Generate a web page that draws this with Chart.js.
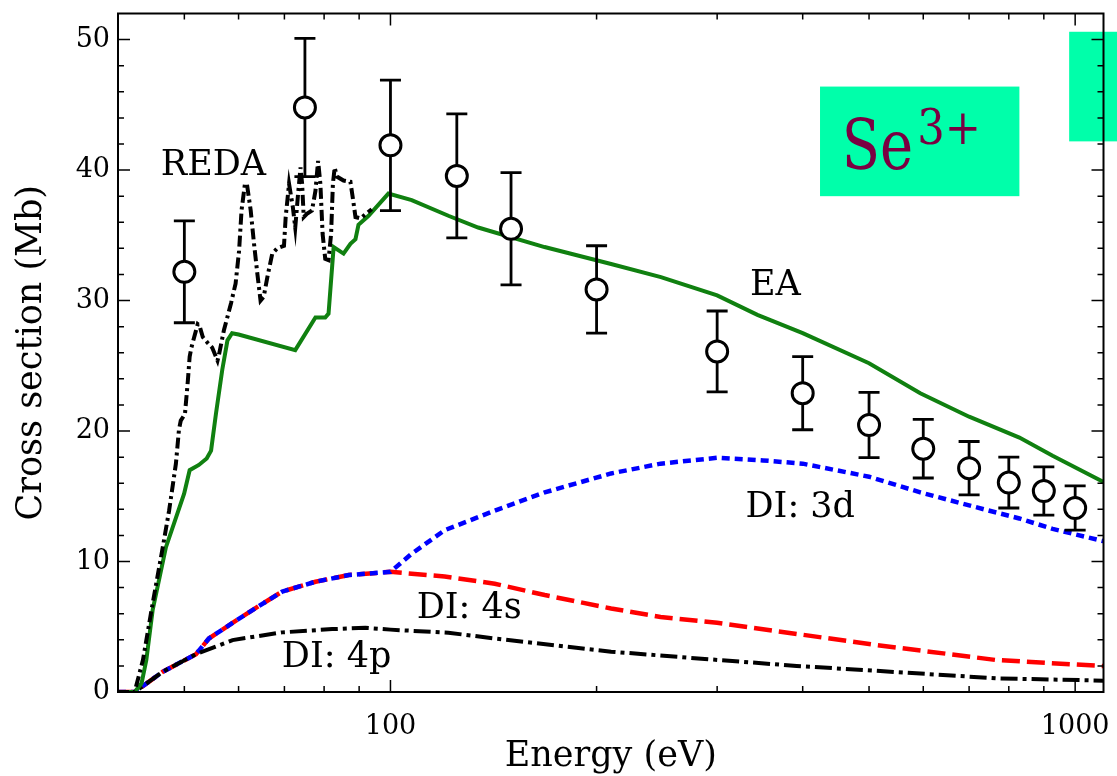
<!DOCTYPE html>
<html>
<head>
<meta charset="utf-8">
<title>Se3+ ionization cross section</title>
<script src="https://cdn.jsdelivr.net/npm/chart.js@4.4.0/dist/chart.umd.min.js"></script>
<style>
  html, body { margin: 0; padding: 0; background: #ffffff; }
  #wrap { width: 1117px; height: 776px; }
</style>
</head>
<body>
<div id="wrap"><canvas id="chart" width="1117" height="776"></canvas></div>
<script>
// Axis ticks
const xTickValues = [100, 1000];
const xMinorTicks = [50, 60, 70, 80, 90, 200, 300, 400, 500, 600, 700, 800, 900];
const yTickValues = [0, 10, 20, 30, 40, 50];
const yMinorTicks = [2, 4, 6, 8, 12, 14, 16, 18, 22, 24, 26, 28, 32, 34, 36, 38, 42, 44, 46, 48];

// Measured cross sections with uncertainties (eV, Mb)
const expEnergy = [50, 75, 100, 125, 150, 200, 300, 400, 500, 600, 700, 800, 900, 1000];
const expCross  = [32.2, 44.8, 41.9, 39.55, 35.5, 30.85, 26.1, 22.9, 20.46, 18.65, 17.15, 16.05, 15.4, 14.1];
const expError  = [3.9, 5.3, 5.0, 4.75, 4.3, 3.35, 3.1, 2.8, 2.5, 2.25, 2.05, 1.95, 1.85, 1.7];

// EA total
const eaEnergy = [40, 42.3, 43.3, 44.0, 44.95, 47.0, 49.96, 50.9, 52.5, 53.9, 54.7, 55.6, 56.8, 57.8, 58.7, 60.0,
  72.6, 77.7, 80.3, 81.2, 82.6, 85.4, 87.4, 88.9, 89.8, 92.9, 99.3, 107.4, 121.5, 134.3, 167.9, 210, 248.3,
  300, 343.5, 400, 500, 594, 700, 829, 927, 1100];
const eaCross = [0, 0, 0.67, 2.45, 6.3, 11.1, 15.2, 17.0, 17.4, 17.9, 18.5, 21.3, 24.7, 26.95, 27.5, 27.4,
  26.2, 28.7, 28.7, 29.0, 34.1, 33.6, 34.35, 34.7, 35.8, 36.5, 38.2, 37.7, 36.5, 35.6, 34.1, 32.8, 31.8,
  30.4, 28.9, 27.5, 25.2, 22.9, 21.1, 19.5, 18.1, 16.1];

// REDA
const redaEnergy = [40, 42.3, 43.5, 44.95, 46.5, 47.5, 48.6, 49.1, 49.4, 50.1, 50.6, 50.9, 51.2, 52.3, 52.6,
  53.2, 54.0, 54.9, 55.9, 56.2, 57.1, 58.5, 59.4, 60.1, 60.6, 61.3, 61.7, 62.5, 63.2, 63.9, 64.6, 65.3, 66.1,
  67.2, 68.3, 69.9, 70.3, 71.1, 72.0, 72.6, 73.3, 73.9, 74.3, 74.7, 75.5, 76.8, 77.7, 78.4, 79.0, 79.6, 80.3,
  81.2, 81.9, 82.4, 82.9, 83.5, 85.4, 87.4, 88.2, 88.9, 90.4, 93.9];
const redaCross = [0, 0, 2.45, 6.8, 11.1, 13.9, 17.5, 20.1, 20.8, 21.3, 23.9, 25.7, 26.4, 28.2, 28.1,
  27.2, 26.8, 26.4, 25.4, 25.9, 27.7, 29.8, 31.3, 33.8, 36.9, 38.95, 38.95, 36.9, 34.35, 32.1, 30.0, 30.3, 31.8,
  33.6, 34.0, 34.2, 36.4, 38.95, 37.2, 35.6, 38.2, 40.2, 38.95, 36.4, 36.65, 36.9, 38.4, 40.7, 38.95, 35.1, 33.2,
  33.1, 35.1, 38.95, 40.2, 39.5, 39.2, 39.1, 37.7, 36.4, 36.3, 37.0];

// Direct ionization, cumulative: 4p, 4p+4s, 4p+4s+3d
const p4Energy = [40, 42.3, 46.5, 52.0, 58.8, 69.5, 82.2, 91.9, 100, 121.5, 142, 210, 293, 392, 513, 767, 1100];
const p4Cross  = [0, 0, 1.55, 2.9, 3.98, 4.57, 4.82, 4.92, 4.78, 4.54, 4.1, 3.09, 2.5, 2.0, 1.62, 1.05, 0.87];

const s4Energy = [40, 42.3, 46.5, 52.0, 54.3, 58.8, 64.3, 69.5, 77.7, 86.9, 100, 120, 142, 168, 210, 248, 300, 392, 513, 767, 1100];
const s4Cross  = [0, 0, 1.55, 2.9, 4.1, 5.3, 6.6, 7.7, 8.45, 8.96, 9.21, 8.85, 8.3, 7.43, 6.4, 5.75, 5.3, 4.45, 3.6, 2.45, 1.99];

const d3Energy = [40, 42.3, 46.5, 52.0, 54.3, 58.8, 64.3, 69.5, 77.7, 86.9, 100, 107.4, 120, 142, 168, 210, 248, 300,
  350, 400, 500, 594, 700, 829, 927, 1100];
const d3Cross  = [0, 0, 1.55, 2.9, 4.1, 5.3, 6.6, 7.7, 8.45, 8.96, 9.21, 10.6, 12.4, 13.9, 15.3, 16.75, 17.5, 17.95,
  17.75, 17.5, 16.5, 15.3, 14.3, 13.3, 12.5, 11.56];

// Curve labels: [text, energy at left edge, cross section at baseline]
const curveLabels = [
  ['REDA', 46.2, 39.6],
  ['EA', 335, 30.4],
  ['DI: 3d', 330, 13.4],
  ['DI: 4s', 109.2, 5.64],
  ['DI: 4p', 69.4, 1.94]
];

const SERIF = "'DejaVu Serif', 'Liberation Serif', serif";

function pts(xs, ys) { return xs.map((x, i) => ({ x: x, y: ys[i] })); }

// keep the plot frame fixed: no extra room for overhanging tick labels
function noPad(s) { s.paddingTop = 0; s.paddingBottom = 0; s.paddingLeft = 0; s.paddingRight = 0; }

const ionPlugin = {
  id: 'ionDecor',
  beforeDatasetsDraw(chart) {
    const { ctx, scales: { x, y } } = chart;
    ctx.save();
    ctx.fillStyle = '#00ffaa';
    // ion badge
    const bx0 = x.getPixelForValue(424), bx1 = x.getPixelForValue(829);
    const by0 = y.getPixelForValue(46.4), by1 = y.getPixelForValue(38.0);
    ctx.fillRect(bx0, by0, bx1 - bx0, by1 - by0);
    // side tab running off the right edge
    const tx0 = x.getPixelForValue(980);
    const ty0 = y.getPixelForValue(50.6), ty1 = y.getPixelForValue(42.2);
    ctx.fillRect(tx0, ty0, chart.width - tx0, ty1 - ty0);
    ctx.restore();
  },
  beforeDatasetDraw(chart, args) {
    if (args.index !== 5) return;
    const { ctx, scales: { x, y } } = chart;
    ctx.save();
    ctx.strokeStyle = '#000';
    ctx.lineWidth = 2.8;
    ctx.setLineDash([]);
    expEnergy.forEach((e, i) => {
      const px = x.getPixelForValue(e);
      const yt = y.getPixelForValue(expCross[i] + expError[i]);
      const yb = y.getPixelForValue(expCross[i] - expError[i]);
      ctx.beginPath();
      ctx.moveTo(px, yt); ctx.lineTo(px, yb);
      ctx.moveTo(px - 10.5, yt); ctx.lineTo(px + 10.5, yt);
      ctx.moveTo(px - 10.5, yb); ctx.lineTo(px + 10.5, yb);
      ctx.stroke();
    });
    ctx.restore();
  },
  afterDatasetsDraw(chart) {
    const { ctx, chartArea: a, scales: { x, y } } = chart;
    ctx.save();
    // frame
    ctx.strokeStyle = '#000';
    ctx.lineWidth = 2;
    ctx.strokeRect(a.left, a.top, a.right - a.left, a.bottom - a.top);
    // inward ticks on all four sides
    ctx.lineWidth = 1.5;
    ctx.beginPath();
    const xt = (v, len) => {
      const p = x.getPixelForValue(v);
      ctx.moveTo(p, a.bottom); ctx.lineTo(p, a.bottom - len);
      ctx.moveTo(p, a.top); ctx.lineTo(p, a.top + len);
    };
    const yt = (v, len) => {
      const p = y.getPixelForValue(v);
      ctx.moveTo(a.left, p); ctx.lineTo(a.left + len, p);
      ctx.moveTo(a.right, p); ctx.lineTo(a.right - len, p);
    };
    xTickValues.forEach(v => xt(v, 12));
    xMinorTicks.forEach(v => xt(v, 6));
    yTickValues.forEach(v => yt(v, 12));
    yMinorTicks.forEach(v => yt(v, 6));
    ctx.stroke();

    // curve labels
    ctx.fillStyle = '#000';
    ctx.font = '35px ' + SERIF;
    ctx.textAlign = 'left';
    ctx.textBaseline = 'alphabetic';
    curveLabels.forEach(([t, e, v]) => {
      ctx.fillText(t, x.getPixelForValue(e), y.getPixelForValue(v));
    });

    // ion symbol
    ctx.fillStyle = '#7a0042';
    let sx = x.getPixelForValue(456);
    ctx.save();
    ctx.translate(sx, y.getPixelForValue(40.1));
    ctx.scale(0.8, 1);
    ctx.font = '70px ' + SERIF;
    ctx.fillText('Se', 0, 0);
    const w = ctx.measureText('Se').width * 0.8;
    ctx.restore();
    ctx.save();
    ctx.translate(sx + w + 4, y.getPixelForValue(42.0));
    ctx.scale(0.9, 1);
    ctx.font = '48px ' + SERIF;
    ctx.fillText('3+', 0, 0);
    ctx.restore();
    ctx.restore();
  }
};

const lineBase = { showLine: true, pointRadius: 0, pointHoverRadius: 0, fill: false, tension: 0 };

new Chart(document.getElementById('chart'), {
  type: 'scatter',
  data: {
    datasets: [
      Object.assign({}, lineBase, { label: 'EA', data: pts(eaEnergy, eaCross), borderColor: '#108010', borderWidth: 4, order: 2 }),
      Object.assign({}, lineBase, { label: 'REDA', data: pts(redaEnergy, redaCross), borderColor: '#000000', borderWidth: 4, borderDash: [11, 4, 3, 4], order: 1 }),
      Object.assign({}, lineBase, { label: 'DI: 3d', data: pts(d3Energy, d3Cross), borderColor: '#0000ff', borderWidth: 4.5, borderDash: [8, 5], order: 4 }),
      Object.assign({}, lineBase, { label: 'DI: 4s', data: pts(s4Energy, s4Cross), borderColor: '#ff0000', borderWidth: 4.5, borderDash: [18, 7], order: 5 }),
      Object.assign({}, lineBase, { label: 'DI: 4p', data: pts(p4Energy, p4Cross), borderColor: '#000000', borderWidth: 4, borderDash: [17, 5, 4, 5], order: 3 }),
      { label: 'Experiment', data: pts(expEnergy, expCross), showLine: false, pointStyle: 'circle', pointRadius: 10.5,
        pointBackgroundColor: '#ffffff', pointBorderColor: '#000000', pointBorderWidth: 3, order: 0 }
    ]
  },
  options: {
    responsive: false,
    animation: false,
    devicePixelRatio: 1,
    layout: { padding: { top: 13, right: 9.5, left: 0, bottom: 0 } },
    plugins: { legend: { display: false }, tooltip: { enabled: false } },
    scales: {
      x: {
        type: 'logarithmic', min: 40, max: 1100, position: 'bottom',
        grid: { display: false, drawTicks: false }, border: { display: false },
        afterBuildTicks: s => { s.ticks = xTickValues.map(v => ({ value: v })); },
        afterFit: s => { s.height = 84; noPad(s); },
        ticks: { font: { family: SERIF, size: 27 }, color: '#000', padding: 19, maxRotation: 0, autoSkip: false,
                 callback: v => String(v) },
        title: { display: true, text: 'Energy (eV)', color: '#000', font: { family: SERIF, size: 35 }, padding: { top: 0, bottom: -2 } }
      },
      y: {
        type: 'linear', min: 0, max: 52, position: 'left',
        grid: { display: false, drawTicks: false }, border: { display: false },
        afterBuildTicks: s => { s.ticks = yTickValues.map(v => ({ value: v })); },
        afterFit: s => { s.width = 118; noPad(s); },
        ticks: { font: { family: SERIF, size: 27 }, color: '#000', padding: 8, callback: v => String(v) },
        title: { display: true, text: 'Cross section (Mb)', color: '#000', font: { family: SERIF, size: 35 }, padding: { top: 11, bottom: 0 } }
      }
    }
  },
  plugins: [ionPlugin]
});
</script>
</body>
</html>
